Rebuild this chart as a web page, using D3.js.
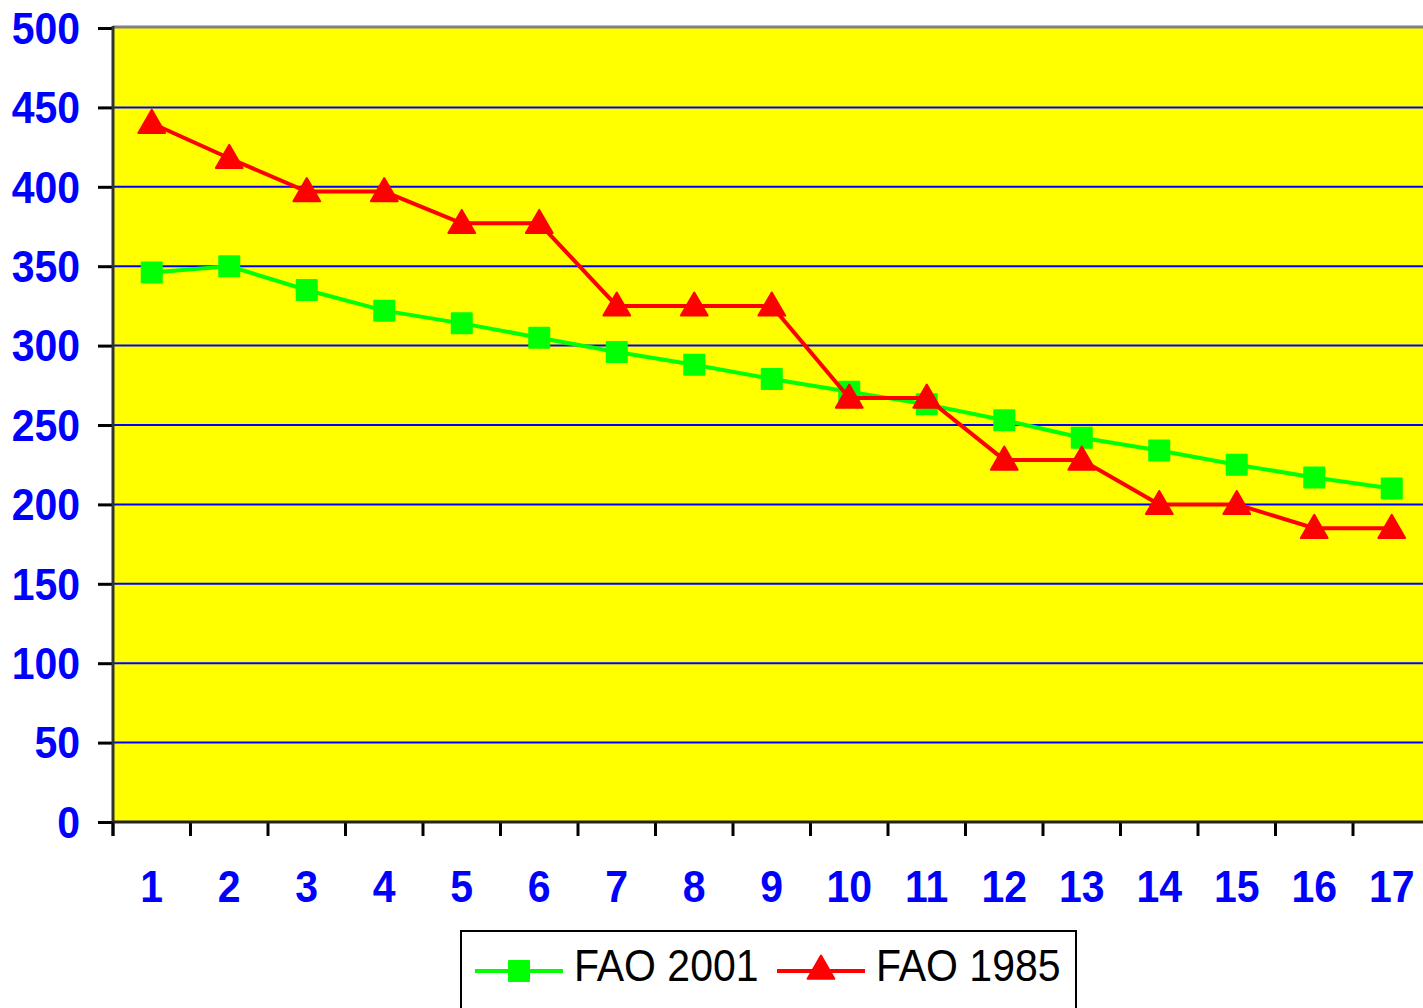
<!DOCTYPE html>
<html>
<head>
<meta charset="utf-8">
<script src="https://cdn.jsdelivr.net/npm/d3@7"></script>
<style>
  body { margin: 0; background: #ffffff; overflow: hidden; }
  text { font-family: "Liberation Sans", Arial, sans-serif; }
</style>
</head>
<body>
<script>
// Chart data
var categories = ["1", "2", "3", "4", "5", "6", "7", "8", "9", "10", "11", "12", "13", "14", "15", "16", "17"];
var fao2001 = [346, 350, 335, 322, 314, 305, 296, 288, 279, 271, 263, 253, 242, 234, 225, 217, 210];
var fao1985 = [440, 418, 397, 397, 377, 377, 325, 325, 325, 267, 267, 228, 228, 200, 200, 185, 185];
var yTicks = [0, 50, 100, 150, 200, 250, 300, 350, 400, 450, 500];
var seriesNames = ["FAO 2001", "FAO 1985"];

// SVG area dimensions
var svgWidth = 1423;
var svgHeight = 1008;

var chartMargin = { top: 28, left: 113, bottom: 186 };
var chartWidth = 77.5 * categories.length;
var chartHeight = svgHeight - chartMargin.top - chartMargin.bottom;

var svg = d3.select("body")
  .append("svg")
  .attr("width", svgWidth)
  .attr("height", svgHeight);

var chartGroup = svg.append("g")
  .attr("transform", `translate(${chartMargin.left}, ${chartMargin.top})`);

// Scales
var xBandScale = d3.scaleBand()
  .domain(categories)
  .range([0, chartWidth]);

var yLinearScale = d3.scaleLinear()
  .domain([0, 500])
  .range([chartHeight, 0]);

// Yellow plot area
chartGroup.append("rect")
  .attr("x", 0)
  .attr("y", 0)
  .attr("width", chartWidth)
  .attr("height", chartHeight)
  .attr("fill", "#ffff00");

// Blue gridlines
chartGroup.selectAll(".grid")
  .data(yTicks.filter(d => d > 0 && d < 500))
  .enter()
  .append("line")
  .attr("class", "grid")
  .attr("x1", 0)
  .attr("x2", chartWidth)
  .attr("y1", d => yLinearScale(d))
  .attr("y2", d => yLinearScale(d))
  .attr("stroke", "#0000ff")
  .attr("stroke-width", 2);

// Gray top border
chartGroup.append("line")
  .attr("x1", 0)
  .attr("x2", chartWidth)
  .attr("y1", yLinearScale(500) - 1)
  .attr("y2", yLinearScale(500) - 1)
  .attr("stroke", "#808080")
  .attr("stroke-width", 3);

// Axes
var leftAxis = d3.axisLeft(yLinearScale)
  .tickValues(yTicks)
  .tickSize(15)
  .tickPadding(18);

var yAxisGroup = chartGroup.append("g")
  .call(leftAxis);
yAxisGroup.select(".domain").remove();
yAxisGroup.selectAll(".tick line").attr("stroke", "#000").attr("stroke-width", 3);
yAxisGroup.selectAll(".tick text")
  .attr("fill", "#0000ff")
  .attr("font-size", 41)
  .attr("font-weight", "bold")
  .attr("dy", "0.34em")
  .attr("transform", "scale(1, 1.1)");

chartGroup.append("line")
  .attr("x1", 0)
  .attr("x2", 0)
  .attr("y1", -2)
  .attr("y2", chartHeight + 14)
  .attr("stroke", "#333")
  .attr("stroke-width", 3);

var bottomAxis = d3.axisBottom(xBandScale)
  .tickSize(0)
  .tickPadding(44);

var xAxisGroup = chartGroup.append("g")
  .attr("transform", `translate(0, ${chartHeight})`)
  .call(bottomAxis);
xAxisGroup.select(".domain").remove();
xAxisGroup.selectAll(".tick text")
  .attr("fill", "#0000ff")
  .attr("font-size", 41)
  .attr("font-weight", "bold")
  .attr("transform", "scale(1, 1.1)");

// Tick marks at band boundaries
xAxisGroup.selectAll(".band-tick")
  .data(categories)
  .enter()
  .append("line")
  .attr("class", "band-tick")
  .attr("x1", d => xBandScale(d))
  .attr("x2", d => xBandScale(d))
  .attr("y1", 0)
  .attr("y2", 14)
  .attr("stroke", "#000")
  .attr("stroke-width", 3);

xAxisGroup.append("line")
  .attr("x1", 0)
  .attr("x2", chartWidth)
  .attr("y1", 0)
  .attr("y2", 0)
  .attr("stroke", "#222")
  .attr("stroke-width", 3);

// Lines and markers
var xMid = d => xBandScale(d) + xBandScale.bandwidth() / 2;

var lineGen = d3.line()
  .x((d, i) => xMid(categories[i]))
  .y(d => yLinearScale(d));

var squareSym = d3.symbol().type(d3.symbolSquare).size(400);
var triSym = d3.symbol().type(d3.symbolTriangle).size(310);

chartGroup.append("path")
  .datum(fao2001)
  .attr("d", lineGen)
  .attr("fill", "none")
  .attr("stroke", "#00ff00")
  .attr("stroke-width", 4);

chartGroup.selectAll(".sq")
  .data(fao2001)
  .enter()
  .append("path")
  .attr("class", "sq")
  .attr("d", squareSym)
  .attr("transform", (d, i) => `translate(${xMid(categories[i])}, ${yLinearScale(d)})`)
  .attr("fill", "#00ff00")
  .attr("stroke", "#00ff00")
  .attr("stroke-width", 2)
  .attr("stroke-linejoin", "round");

chartGroup.append("path")
  .datum(fao1985)
  .attr("d", lineGen)
  .attr("fill", "none")
  .attr("stroke", "#ff0000")
  .attr("stroke-width", 4);

chartGroup.selectAll(".tri")
  .data(fao1985)
  .enter()
  .append("path")
  .attr("class", "tri")
  .attr("d", triSym)
  .attr("transform", (d, i) => `translate(${xMid(categories[i])}, ${yLinearScale(d) + 2})`)
  .attr("fill", "#ff0000")
  .attr("stroke", "#ff0000")
  .attr("stroke-width", 2)
  .attr("stroke-linejoin", "round");

// Legend
var legend = svg.append("g");

legend.append("rect")
  .attr("x", 461)
  .attr("y", 931)
  .attr("width", 615)
  .attr("height", 90)
  .attr("fill", "#fff")
  .attr("stroke", "#000")
  .attr("stroke-width", 2);

var legendItems = [
  { name: seriesNames[0], color: "#00ff00", sym: squareSym, x: 475 },
  { name: seriesNames[1], color: "#ff0000", sym: triSym, x: 777 }
];

legendItems.forEach(function(item) {
  legend.append("line")
    .attr("x1", item.x)
    .attr("x2", item.x + 88)
    .attr("y1", 971)
    .attr("y2", 971)
    .attr("stroke", item.color)
    .attr("stroke-width", 4);
  legend.append("path")
    .attr("d", item.sym)
    .attr("transform", `translate(${item.x + 44}, 971)`)
    .attr("fill", item.color)
    .attr("stroke", item.color)
    .attr("stroke-width", 2)
    .attr("stroke-linejoin", "round");
  legend.append("text")
    .attr("transform", `translate(${item.x + 99}, 981) scale(1, 1.1)`)
    .attr("font-size", 41)
    .attr("fill", "#000")
    .text(item.name);
});
</script>
</body>
</html>
